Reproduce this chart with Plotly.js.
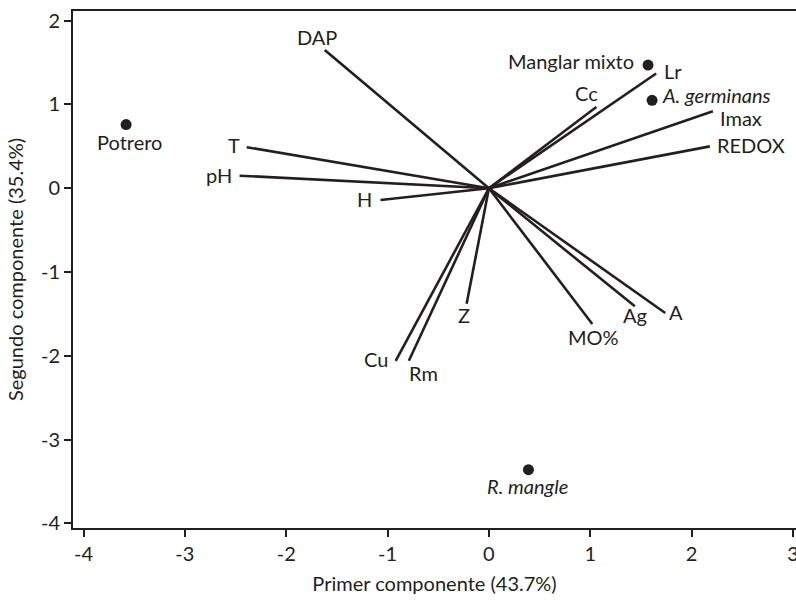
<!DOCTYPE html>
<html>
<head>
<meta charset="utf-8">
<script src="https://cdn.plot.ly/plotly-3.0.1.min.js"></script>
<style>html,body{margin:0;padding:0;background:#fff;}#chart{width:796px;height:600px;}</style>
</head>
<body>
<div id="chart"></div>
<script>
// Variable loadings (biplot vectors)
const varNames = ["DAP","T","pH","H","Lr","Cc","Imax","REDOX","Cu","Rm","Z","MO%","Ag","A"];
const varPC1 = [-1.62,-2.39,-2.46,-1.07,1.65,1.06,2.21,2.18,-0.92,-0.79,-0.22,1.02,1.44,1.74];
const varPC2 = [1.65,0.49,0.15,-0.14,1.37,0.97,0.92,0.50,-2.06,-2.06,-1.38,-1.62,-1.41,-1.49];

// Site scores
const siteNames = ["Potrero","Manglar mixto","<i>A. germinans</i>","<i>R. mangle</i>"];
const sitePC1 = [-3.58,1.57,1.61,0.39];
const sitePC2 = [0.76,1.47,1.05,-3.36];

const xTicks = [-4,-3,-2,-1,0,1,2,3];
const yTicks = [-4,-3,-2,-1,0,1,2];

// label placement (pixel offsets from the point / vector tip)
const varLabelPos = {
  "DAP":  {xa:"center", xs:-8,  ys:13},
  "T":    {xa:"right",  xs:-5,  ys:2.5},
  "pH":   {xa:"right",  xs:-6,  ys:0.5},
  "H":    {xa:"right",  xs:-6,  ys:0.5},
  "Lr":   {xa:"left",   xs:6,   ys:2.5},
  "Cc":   {xa:"center", xs:-10, ys:14.5},
  "Imax": {xa:"left",   xs:5,   ys:-7},
  "REDOX":{xa:"left",   xs:5,   ys:1.5},
  "Cu":   {xa:"right",  xs:-6,  ys:1.5},
  "Rm":   {xa:"left",   xs:-2,  ys:-12.5},
  "Z":    {xa:"center", xs:-3,  ys:-11.5},
  "MO%":  {xa:"center", xs:1,   ys:-13.5},
  "Ag":   {xa:"center", xs:0,   ys:-8.5},
  "A":    {xa:"left",   xs:2,   ys:1.5}
};
const siteLabelPos = [
  {xa:"center", xs:3,  ys:-17.5},
  {xa:"right",  xs:-12, ys:4.5},
  {xa:"left",   xs:8,  ys:5.5},
  {xa:"center", xs:-1, ys:-16.5}
];

const ink = "#231f20";
const FONT = "Lato, sans-serif";
const FS = 20;

const vx = [], vy = [];
varNames.forEach((n,i)=>{ vx.push(0, varPC1[i], null); vy.push(0, varPC2[i], null); });

const traces = [
  {x:vx, y:vy, mode:"lines", type:"scatter", line:{color:ink, width:2.6}, hoverinfo:"skip", showlegend:false},
  {x:sitePC1, y:sitePC2, mode:"markers", type:"scatter", marker:{color:ink, size:11}, showlegend:false}
];

const annotations = [];
varNames.forEach((n,i)=>{
  const p = varLabelPos[n];
  annotations.push({x:varPC1[i], y:varPC2[i], text:n, showarrow:false, xanchor:p.xa, yanchor:"middle",
    xshift:p.xs, yshift:p.ys, font:{family:FONT, size:FS, color:ink}});
});
siteNames.forEach((n,i)=>{
  const p = siteLabelPos[i];
  annotations.push({x:sitePC1[i], y:sitePC2[i], text:n, showarrow:false, xanchor:p.xa, yanchor:"middle",
    xshift:p.xs, yshift:p.ys, font:{family:FONT, size:FS, color:ink}});
});

const layout = {
  width:796, height:600,
  margin:{l:73, r:0, t:11, b:72},
  paper_bgcolor:"#fff", plot_bgcolor:"#fff",
  font:{family:FONT, size:FS, color:ink},
  xaxis:{range:[-4.104,3.03], tickvals:xTicks, ticktext:xTicks.map(String), ticks:"outside", ticklen:7, tickwidth:2,
    tickcolor:ink, showline:true, linecolor:ink, linewidth:2, mirror:true, showgrid:false, zeroline:false,
    ticklabeloverflow:"allow",
    tickfont:{family:FONT, size:FS, color:ink},
    title:{text:"Primer componente (43.7%)", font:{family:FONT, size:FS, color:ink}, standoff:13}},
  yaxis:{range:[-4.056,2.116], tickvals:yTicks, ticktext:yTicks.map(String), ticks:"outside", ticklen:7, tickwidth:2,
    tickcolor:ink, showline:true, linecolor:ink, linewidth:2, mirror:false, showgrid:false, zeroline:false,
    tickfont:{family:FONT, size:FS, color:ink},
    title:{text:"Segundo componente (35.4%)", font:{family:FONT, size:FS, color:ink}, standoff:12}},
  annotations:annotations
};

Plotly.newPlot("chart", traces, layout, {displayModeBar:false, staticPlot:true});
</script>
</body>
</html>
